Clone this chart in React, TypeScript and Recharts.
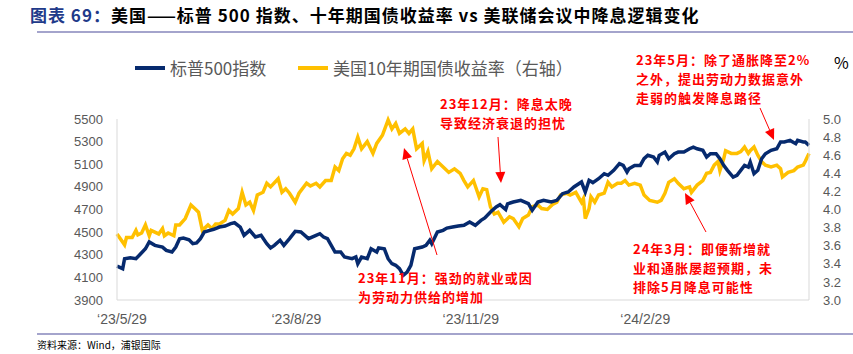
import { LineChart, Line, XAxis, YAxis } from 'recharts'

// S&P 500 index, days counted from 2023/5/29
const spxDays = [0, 3, 4, 7, 10, 12, 15, 17, 20, 24, 26, 29, 31, 33, 35, 38, 40, 42, 44, 46, 49, 51, 54, 57, 60, 62, 65, 67, 70, 73, 76, 79, 81, 83, 86, 88, 91, 94, 97, 101, 105, 107, 109, 111, 115, 118, 120, 124, 126, 127, 129, 132, 134, 137, 138, 141, 143, 145, 147, 149, 151, 153, 155, 157, 161, 163, 165, 166, 169, 172, 174, 177, 180, 183, 186, 189, 192, 194, 197, 200, 202, 205, 206, 209, 213, 217, 219, 222, 225, 229, 232, 235, 238, 241, 245, 247, 249, 251, 254, 257, 259, 262, 265, 267, 269, 270, 273, 276, 278, 280, 283, 285, 286, 289, 291, 294, 296, 299, 302, 304, 306, 309, 311, 313, 316, 318, 320, 322, 325, 327, 329, 331, 333, 334, 336, 338, 340, 342, 345, 348, 350, 352, 355, 358, 359, 362, 363, 365]
const spxValues = [4200, 4177, 4265, 4274, 4265, 4300, 4353, 4413, 4383, 4368, 4339, 4324, 4368, 4442, 4448, 4433, 4398, 4404, 4442, 4501, 4516, 4525, 4545, 4554, 4575, 4583, 4545, 4472, 4516, 4457, 4472, 4398, 4360, 4383, 4428, 4383, 4442, 4507, 4501, 4442, 4472, 4486, 4457, 4442, 4324, 4324, 4280, 4265, 4280, 4221, 4280, 4265, 4353, 4324, 4360, 4353, 4265, 4221, 4207, 4177, 4118, 4147, 4207, 4353, 4368, 4383, 4428, 4398, 4501, 4516, 4536, 4545, 4554, 4560, 4590, 4560, 4604, 4625, 4678, 4722, 4742, 4700, 4750, 4766, 4781, 4752, 4693, 4766, 4781, 4766, 4781, 4840, 4855, 4899, 4943, 4855, 4958, 4938, 4972, 5016, 5002, 5046, 5105, 5090, 5031, 5060, 5090, 5090, 5149, 5179, 5164, 5120, 5179, 5208, 5149, 5193, 5208, 5208, 5237, 5252, 5237, 5223, 5164, 5193, 5193, 5149, 5090, 5046, 4987, 5002, 5046, 5090, 5075, 5120, 5016, 5046, 5149, 5193, 5223, 5237, 5297, 5297, 5311, 5282, 5311, 5297, 5297, 5267]

// US 10Y treasury yield (%)
const yieldDays = [0, 4, 5, 8, 10, 11, 13, 15, 17, 18, 22, 24, 25, 27, 30, 31, 33, 36, 39, 41, 43, 45, 48, 50, 52, 54, 57, 59, 61, 64, 66, 68, 70, 72, 74, 77, 79, 81, 85, 87, 89, 91, 94, 96, 100, 102, 105, 107, 110, 113, 115, 117, 119, 121, 123, 125, 127, 129, 132, 135, 137, 140, 143, 145, 147, 149, 152, 154, 156, 158, 161, 162, 164, 166, 169, 173, 175, 178, 181, 183, 185, 188, 191, 193, 195, 197, 199, 201, 204, 207, 209, 212, 214, 217, 219, 222, 224, 227, 230, 232, 234, 237, 239, 242, 245, 246, 247, 249, 250, 252, 254, 257, 259, 261, 264, 266, 268, 270, 273, 276, 278, 281, 285, 287, 289, 291, 294, 296, 299, 302, 303, 306, 309, 311, 313, 315, 317, 318, 320, 321, 324, 327, 329, 331, 333, 334, 336, 338, 340, 342, 345, 348, 350, 351, 354, 357, 359, 362, 363, 365]
const yieldValues = [3.73, 3.61, 3.69, 3.69, 3.77, 3.72, 3.74, 3.83, 3.71, 3.77, 3.73, 3.79, 3.71, 3.74, 3.71, 3.83, 3.83, 3.9, 4.05, 4.01, 3.97, 3.77, 3.83, 3.79, 3.84, 3.84, 3.88, 3.99, 3.95, 4.01, 4.19, 4.05, 4.08, 3.99, 4.16, 4.19, 4.29, 4.25, 4.34, 4.19, 4.23, 4.18, 4.08, 4.18, 4.29, 4.26, 4.29, 4.25, 4.32, 4.32, 4.47, 4.43, 4.56, 4.62, 4.6, 4.67, 4.8, 4.67, 4.75, 4.62, 4.73, 4.82, 4.99, 4.89, 4.95, 4.84, 4.89, 4.84, 4.89, 4.67, 4.73, 4.54, 4.64, 4.45, 4.53, 4.45, 4.41, 4.45, 4.4, 4.32, 4.25, 4.32, 4.14, 4.23, 4.22, 4.03, 3.95, 3.97, 3.86, 3.92, 3.9, 3.81, 3.9, 3.94, 4.03, 4.05, 4.01, 4.0, 4.06, 4.08, 4.16, 4.18, 4.16, 4.19, 4.08, 4.12, 3.9, 4.01, 4.14, 4.08, 4.16, 4.18, 4.3, 4.25, 4.29, 4.29, 4.32, 4.27, 4.29, 4.27, 4.16, 4.1, 4.08, 4.1, 4.18, 4.3, 4.34, 4.29, 4.23, 4.25, 4.19, 4.27, 4.32, 4.4, 4.41, 4.49, 4.53, 4.43, 4.56, 4.65, 4.62, 4.62, 4.64, 4.69, 4.62, 4.65, 4.69, 4.6, 4.53, 4.49, 4.47, 4.49, 4.45, 4.36, 4.41, 4.43, 4.47, 4.49, 4.53, 4.62]

const xTicks = [0, 92, 184, 276]
const xTickLabels = ['‘23/5/29', '‘23/8/29', '‘23/11/29', '‘24/2/29']
const leftTicks = [3900, 4100, 4300, 4500, 4700, 4900, 5100, 5300, 5500]
const rightTicks = [3.0, 3.2, 3.4, 3.6, 3.8, 4.0, 4.2, 4.4, 4.6, 4.8, 5.0]

const spxData = spxDays.map((d, i) => ({ day: d, spx: spxValues[i] }))
const yieldData = yieldDays.map((d, i) => ({ day: d, yld: yieldValues[i] }))

const NAVY = '#062A6E'
const GOLD = '#FFC000'
const RED = '#FF0000'
const GREY = '#595959'
const CJK = '"Noto Sans CJK SC", "Noto Sans", sans-serif'
const NUM = '"Liberation Sans", Arial, sans-serif'

const notes = [
  { left: 636, top: 50, lines: ['23年5月：除了通胀降至2%', '之外，提出劳动力数据意外', '走弱的触发降息路径'] },
  { left: 440, top: 94, lines: ['23年12月：降息太晚', '导致经济衰退的担忧'] },
  { left: 358, top: 268, lines: ['23年11月：强劲的就业或因', '为劳动力供给的增加'] },
  { left: 633, top: 239, lines: ['24年3月：即便新增就', '业和通胀屡超预期，未', '排除5月降息可能性'] },
]

const arrows = [
  [760, 108, 774, 140],
  [498, 137, 501, 183],
  [437, 255, 404, 148],
  [706, 232, 685, 193],
]

function Arrow({ x1, y1, x2, y2 }: { x1: number; y1: number; x2: number; y2: number }) {
  const a = Math.atan2(y2 - y1, x2 - x1)
  const len = 11
  const w = 5
  const bx = x2 - len * Math.cos(a)
  const by = y2 - len * Math.sin(a)
  const px = -Math.sin(a) * w
  const py = Math.cos(a) * w
  return (
    <g>
      <line x1={x1} y1={y1} x2={bx} y2={by} stroke={RED} strokeWidth={1} />
      <polygon points={`${x2},${y2} ${bx + px},${by + py} ${bx - px},${by - py}`} fill={RED} />
    </g>
  )
}

export default function App() {
  return (
    <div style={{ position: 'absolute', left: 0, top: 0, width: 853, height: 354, background: '#fff', overflow: 'hidden', fontFamily: CJK }}>
      <div style={{ position: 'absolute', left: 30, top: 3, fontSize: 17, lineHeight: '24px', fontWeight: 700, whiteSpace: 'nowrap', color: '#000', letterSpacing: 1 }}>
        <span style={{ color: '#1F3A8A' }}>图表 69：</span>美国——标普 500 指数、十年期国债收益率 vs 美联储会议中降息逻辑变化
      </div>
      <div style={{ position: 'absolute', left: 37, top: 31, width: 816, height: 2, background: '#A4A4CC' }} />
      <div style={{ position: 'absolute', left: 37, top: 333, width: 816, height: 2, background: '#A4A4CC' }} />
      <div style={{ position: 'absolute', left: 37, top: 338, fontSize: 10, lineHeight: '14px', color: '#000', whiteSpace: 'nowrap' }}>
        资料来源：Wind，浦银国际
      </div>

      <LineChart width={853} height={354} margin={{ top: 119, right: 0, left: 57, bottom: 24 }} style={{ position: 'absolute', left: 0, top: 0 }}>
        <XAxis
          dataKey="day"
          type="number"
          domain={[0, 365]}
          ticks={xTicks}
          interval={0}
          tickFormatter={(v: number) => xTickLabels[xTicks.indexOf(v)]}
          allowDuplicatedCategory={false}
          axisLine={{ stroke: '#D9D9D9' }}
          tickLine={false}
          height={30}
          tick={{ fill: GREY, fontSize: 14, fontFamily: NUM, dx: 5, dy: 6 }}
        />
        <YAxis
          yAxisId="left"
          domain={[3900, 5500]}
          ticks={leftTicks}
          interval={0}
          width={60}
          axisLine={{ stroke: '#D9D9D9' }}
          tickLine={false}
          tickMargin={8}
          tick={{ fill: GREY, fontSize: 13, fontFamily: NUM }}
        />
        <YAxis
          yAxisId="right"
          orientation="right"
          domain={[3, 5]}
          ticks={rightTicks}
          interval={0}
          tickFormatter={(v: number) => v.toFixed(1)}
          width={44}
          axisLine={{ stroke: '#D9D9D9' }}
          tickLine={false}
          tickMargin={8}
          tick={{ fill: GREY, fontSize: 13, fontFamily: NUM }}
        />
        <Line yAxisId="right" data={yieldData} dataKey="yld" stroke={GOLD} strokeWidth={3.5} dot={false} type="linear" isAnimationActive={false} />
        <Line yAxisId="left" data={spxData} dataKey="spx" stroke={NAVY} strokeWidth={3.5} dot={false} type="linear" isAnimationActive={false} />
      </LineChart>

      <div style={{ position: 'absolute', left: 135, top: 66, width: 30, height: 4, background: NAVY }} />
      <div style={{ position: 'absolute', left: 170, top: 57, fontSize: 17, lineHeight: '22px', color: GREY, whiteSpace: 'nowrap' }}>标普500指数</div>
      <div style={{ position: 'absolute', left: 298, top: 66, width: 30, height: 4, background: GOLD }} />
      <div style={{ position: 'absolute', left: 333, top: 57, fontSize: 17, lineHeight: '22px', color: GREY, whiteSpace: 'nowrap' }}>美国10年期国债收益率（右轴）</div>
      <div style={{ position: 'absolute', left: 834, top: 52, fontSize: 16, lineHeight: '20px', color: '#000' }}>%</div>

      {notes.map((n, i) => (
        <div key={i} style={{ position: 'absolute', left: n.left, top: n.top, color: RED, fontSize: 13, lineHeight: '19px', fontWeight: 700, letterSpacing: 1, whiteSpace: 'nowrap' }}>
          {n.lines.map((l, j) => (
            <div key={j}>{l}</div>
          ))}
        </div>
      ))}

      <svg width={853} height={354} style={{ position: 'absolute', left: 0, top: 0, pointerEvents: 'none' }}>
        {arrows.map(([x1, y1, x2, y2], i) => (
          <Arrow key={i} x1={x1} y1={y1} x2={x2} y2={y2} />
        ))}
      </svg>
    </div>
  )
}
